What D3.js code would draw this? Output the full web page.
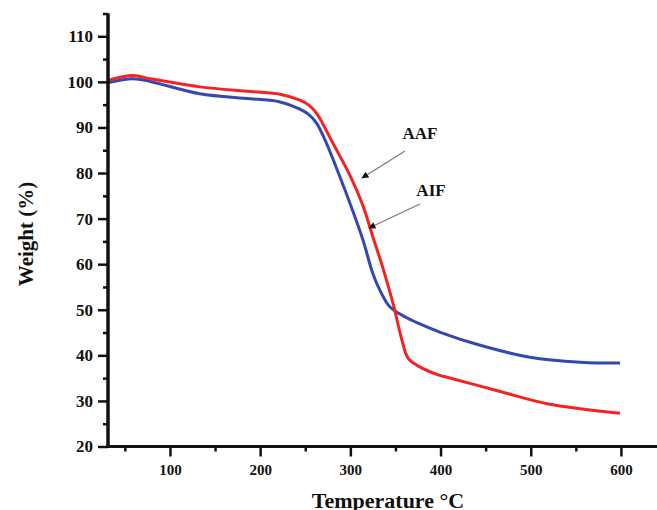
<!DOCTYPE html>
<html>
<head>
<meta charset="utf-8">
<script src="https://cdn.jsdelivr.net/npm/d3@7"></script>
<style>
  html, body { margin: 0; padding: 0; background: #fff; }
  svg { display: block; }
  text { font-family: "Liberation Serif", "Times New Roman", serif; font-weight: bold; fill: #111; }
</style>
</head>
<body>
<svg id="chart" width="657" height="510"></svg>
<script>
// TGA curves: weight loss vs temperature
const aafTemp   = [31, 59, 78, 133, 189, 222, 244, 254, 263, 280, 300, 314, 325, 337, 348, 357, 364, 374, 399, 407, 462, 518, 599];
const aafWeight = [100.3, 101.4, 100.7, 98.9, 97.9, 97.3, 96.0, 94.9, 93.0, 86.8, 79.3, 72.8, 66.0, 58.6, 50.9, 43.5, 39.4, 37.8, 35.6, 35.2, 32.3, 29.4, 27.3];

const aifTemp   = [31, 59, 78, 133, 189, 222, 244, 254, 263, 272, 287, 301, 314, 325, 333, 344, 362, 377, 399, 444, 499, 555, 599];
const aifWeight = [99.8, 100.7, 100.1, 97.4, 96.3, 95.6, 94.0, 92.8, 90.8, 87.2, 79.9, 72.6, 65.3, 57.9, 54.2, 50.6, 48.3, 46.9, 45.1, 42.2, 39.6, 38.5, 38.3];

const xMajorTicks = [100, 200, 300, 400, 500, 600];
const xMinorTicks = [50, 150, 250, 350, 450, 550, 650];
const yMajorTicks = [20, 30, 40, 50, 60, 70, 80, 90, 100, 110];
const yMinorTicks = [25, 35, 45, 55, 65, 75, 85, 95, 105, 115];

const seriesNames = ["AAF", "AIF"];

const svg = d3.select("#chart");

const x = d3.scaleLinear().domain([31.3, 640]).range([108, 657]);
const y = d3.scaleLinear().domain([20, 115]).range([446.5, 13.5]);

// arrowhead marker for the annotations
svg.append("defs").append("marker")
  .attr("id", "arrowHead")
  .attr("viewBox", "0 0 10 10")
  .attr("refX", 9).attr("refY", 5)
  .attr("markerWidth", 9).attr("markerHeight", 7)
  .attr("markerUnits", "userSpaceOnUse")
  .attr("orient", "auto")
  .append("path").attr("d", "M0,0 L10,5 L0,10 Z").attr("fill", "#111");

// curves
const line = d3.line()
  .x(d => x(d[0]))
  .y(d => y(d[1]))
  .curve(d3.curveCatmullRom.alpha(0.5));

const aif = aifTemp.map((t, i) => [t, aifWeight[i]]);
const aaf = aafTemp.map((t, i) => [t, aafWeight[i]]);

svg.append("path").datum(aif)
  .attr("d", line)
  .attr("fill", "none")
  .attr("stroke", "#3448b0")
  .attr("stroke-width", 3);

svg.append("path").datum(aaf)
  .attr("d", line)
  .attr("fill", "none")
  .attr("stroke", "#f52222")
  .attr("stroke-width", 3);

// axes
const yAxis = svg.append("g").attr("transform", `translate(${x.range()[0]},0)`);
yAxis.call(d3.axisLeft(y).tickValues(yMajorTicks).tickSize(10).tickPadding(5).tickFormat(d3.format("d")));
const yMinor = svg.append("g").attr("transform", `translate(${x.range()[0]},0)`);
yMinor.call(d3.axisLeft(y).tickValues(yMinorTicks).tickSize(5).tickFormat(""));

const xAxis = svg.append("g").attr("transform", `translate(0,${y.range()[0]})`);
xAxis.call(d3.axisBottom(x).tickValues(xMajorTicks).tickSize(10).tickPadding(8).tickFormat(d3.format("d")));
const xMinor = svg.append("g").attr("transform", `translate(0,${y.range()[0]})`);
xMinor.call(d3.axisBottom(x).tickValues(xMinorTicks).tickSize(5).tickFormat(""));

[yAxis, yMinor, xAxis, xMinor].forEach(g => {
  g.select(".domain").attr("stroke", "#111").attr("stroke-width", 3);
  g.selectAll(".tick line").attr("stroke", "#111").attr("stroke-width", 2.5);
});
// extend the axis lines to the corner so they meet cleanly
yAxis.select(".domain").attr("d", `M0,${y.range()[1]}V${y.range()[0] + 1.5}`);
yMinor.select(".domain").attr("d", `M0,${y.range()[1]}V${y.range()[0] + 1.5}`);
xAxis.select(".domain").attr("d", `M${x.range()[0] - 1.5},0H${x.range()[1]}`);
xMinor.select(".domain").attr("d", `M${x.range()[0] - 1.5},0H${x.range()[1]}`);

yAxis.selectAll(".tick text")
  .style("font-family", "'Liberation Serif', serif")
  .style("font-weight", "bold")
  .style("font-size", "17px")
  .attr("fill", "#111");
xAxis.selectAll(".tick text")
  .style("font-family", "'Liberation Serif', serif")
  .style("font-weight", "bold")
  .style("font-size", "15px")
  .attr("fill", "#111");

// axis titles
svg.append("text")
  .attr("x", 388).attr("y", 508)
  .attr("text-anchor", "middle")
  .style("font-size", "22px")
  .text("Temperature °C");

svg.append("text")
  .attr("transform", "translate(33,234) rotate(-90)")
  .attr("text-anchor", "middle")
  .style("font-size", "21px")
  .text("Weight (%)");

// annotations: label near the curve with an arrow pointing at it
const notes = [
  { name: seriesNames[0], tx: 420, ty: 139, from: [405, 151], to: [362, 178] },
  { name: seriesNames[1], tx: 431, ty: 196, from: [420, 204], to: [369, 228] }
];
notes.forEach(n => {
  svg.append("line")
    .attr("x1", n.from[0]).attr("y1", n.from[1])
    .attr("x2", n.to[0]).attr("y2", n.to[1])
    .attr("stroke", "#777").attr("stroke-width", 1.2)
    .attr("marker-end", "url(#arrowHead)");
  svg.append("text")
    .attr("x", n.tx).attr("y", n.ty)
    .attr("text-anchor", "middle")
    .style("font-size", "17px")
    .text(n.name);
});
</script>
</body>
</html>
